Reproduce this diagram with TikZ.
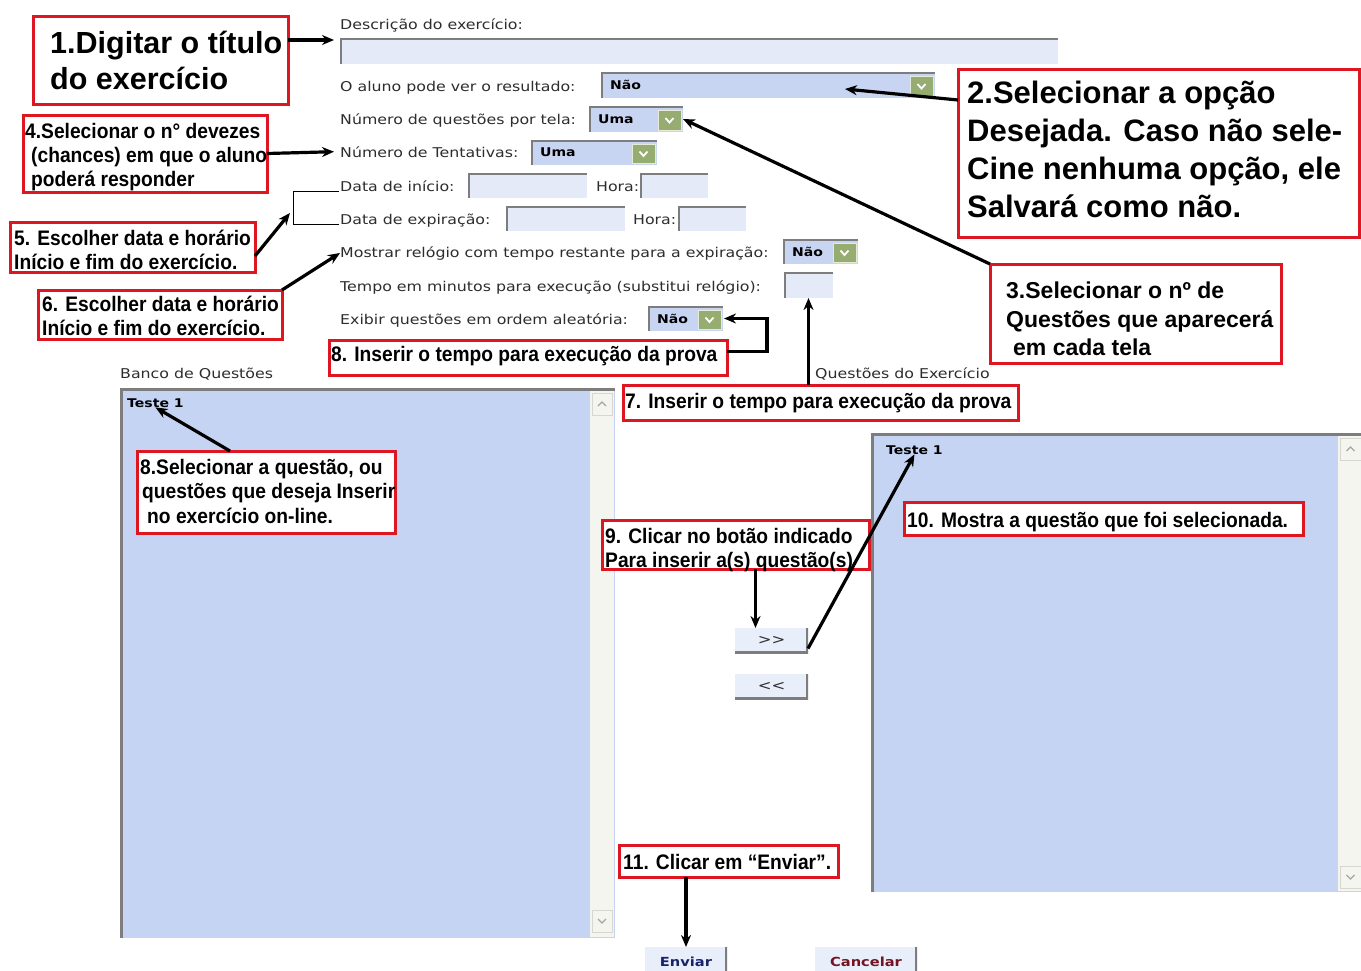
\documentclass[tikz,border=0pt]{standalone}
\usepackage{fontspec}
\setmainfont{Liberation Sans}
\newfontfamily\formfont[FakeStretch=1.17]{DejaVu Sans}
\newfontfamily\narrowfont[FakeStretch=0.915]{Liberation Sans}
\usetikzlibrary{arrows.meta,calc}
\definecolor{callred}{RGB}{222,22,34}
\definecolor{listblue}{RGB}{198,212,244}
\definecolor{inputblue}{RGB}{228,234,248}
\definecolor{selblue}{RGB}{200,213,242}
\definecolor{insetgray}{RGB}{125,125,125}
\definecolor{btngreen}{RGB}{150,172,112}
\definecolor{scrollbg}{RGB}{245,245,240}
\definecolor{scrollline}{RGB}{215,215,210}
\definecolor{btnfill}{RGB}{232,238,250}
\definecolor{formtext}{RGB}{45,45,45}
\definecolor{enviarblue}{RGB}{25,35,105}
\definecolor{cancelred}{RGB}{115,20,35}
% rectangle node: style, name, x1, y1, x2, y2
\newcommand\rnode[6]{\node[#1,anchor=north west,inner sep=0pt,outer sep=0pt,minimum width={(#5)-(#3)},minimum height={(#6)-(#4)}] (#2) at (#3,#4) {};}
% select box: name, x1, y1, x2, y2, value
\newcommand\selbox[6]{%
  \rnode{selstyle}{#1}{#2}{#3}{#4}{#5}
  \pgfmathsetmacro\bxa{#4-25}\pgfmathsetmacro\bya{#3+4}%
  \pgfmathsetmacro\bxb{#4-2}\pgfmathsetmacro\byb{#5-2}%
  \rnode{ddbtn}{#1b}{\bxa}{\bya}{\bxb}{\byb}
  \draw[white,line width=1.8pt] ($(#1b.center)+(-4,-2)$) -- ($(#1b.center)+(0,2.5)$) -- ($(#1b.center)+(4,-2)$);
  \node[selval] (#1t) at ($(#1.west)+(9,0)$) {#6};}
% push button: name, x1, y1, x2, y2, text, text style
\newcommand\pbtn[7]{%
  \rnode{btnstyle}{#1}{#2}{#3}{#4}{#5}
  \node[#7] (#1t) at (#1.center) {#6};}
% scroll button: name, x1, y1, x2, y2, up(1)/down(-1)
\newcommand\sbtn[6]{%
  \rnode{sbtnstyle}{#1}{#2}{#3}{#4}{#5}
  \draw[black!35,line width=1.2pt] ($(#1.center)+(-4,2*#6)$) -- ($(#1.center)+(0,-2*#6)$) -- ($(#1.center)+(4,2*#6)$);}
\begin{document}
\begin{tikzpicture}[x=1pt,y=-1pt,
  redbox/.style={draw=callred,line width=3pt,fill=white},
  ptr/.style={draw=black,line width=3.2pt,-{Stealth[length=12pt,width=10pt]}},
  lbl/.style={anchor=base west,inner sep=0pt,text=formtext,font=\formfont\fontsize{13.5}{16}\selectfont},
  selval/.style={anchor=west,inner sep=0pt,text=black,font=\formfont\bfseries\fontsize{12}{14}\selectfont},
  item/.style={anchor=base west,inner sep=0pt,text=black,font=\formfont\bfseries\fontsize{12}{14}\selectfont},
  inp/.style={fill=inputblue,path picture={\draw[insetgray,line width=4pt] (path picture bounding box.south west) -- (path picture bounding box.north west) -- (path picture bounding box.north east);}},
  selstyle/.style={fill=selblue,path picture={\draw[insetgray,line width=4pt] (path picture bounding box.south west) -- (path picture bounding box.north west) -- (path picture bounding box.north east);}},
  ddbtn/.style={fill=btngreen,draw=white!75!btngreen,line width=1pt},
  listbox/.style={fill=listblue,path picture={\draw[insetgray,line width=5pt] (path picture bounding box.south west) -- (path picture bounding box.north west) -- (path picture bounding box.north east);}},
  scrollstyle/.style={fill=scrollbg},
  sbtnstyle/.style={fill=scrollbg,draw=scrollline,line width=1pt},
  btnstyle/.style={fill=btnfill,path picture={\draw[insetgray,line width=4pt] (path picture bounding box.south west) -- (path picture bounding box.south east) -- (path picture bounding box.north east);}},
  btntext/.style={inner sep=0pt,text=formtext,font=\formfont\fontsize{14}{16}\selectfont},
  envtext/.style={inner sep=0pt,yshift=-1pt,text=enviarblue,font=\formfont\bfseries\fontsize{12.5}{15}\selectfont},
  cantext/.style={inner sep=0pt,yshift=-1pt,text=cancelred,font=\formfont\bfseries\fontsize{12.5}{15}\selectfont},
  bigA/.style={anchor=base west,inner sep=0pt,font=\bfseries\fontsize{30.5}{36}\selectfont},
  bigB/.style={anchor=base west,inner sep=0pt,font=\bfseries\fontsize{31}{36}\selectfont},
  midC/.style={anchor=base west,inner sep=0pt,font=\bfseries\fontsize{23}{27}\selectfont},
  nar/.style={anchor=base west,inner sep=0pt,font=\narrowfont\bfseries\fontsize{21}{24}\selectfont},
]
\useasboundingbox (0,0) rectangle (1361,970);
\clip (0,0) rectangle (1361,970);
\fill[white] (0,0) rectangle (1361,970);

% ---------- form ----------
\node[lbl] (Ldesc) at (340,29) {Descrição do exercício:};
\rnode{inp}{Idesc}{340}{38}{1058}{64}
\node[lbl] (Laluno) at (340,91) {O aluno pode ver o resultado:};
\selbox{Saluno}{601}{72}{935}{98}{Não}
\node[lbl] (Lqpt) at (340,124) {Número de questões por tela:};
\selbox{Sqpt}{589}{106}{683}{132}{Uma}
\node[lbl] (Ltent) at (340,157) {Número de Tentativas:};
\selbox{Stent}{531}{140}{657}{165}{Uma}
\node[lbl] (Ldi) at (340,191) {Data de início:};
\rnode{inp}{Idi}{468}{173}{587}{198}
\node[lbl] (Lhi) at (596,191) {Hora:};
\rnode{inp}{Ihi}{640}{173}{708}{198}
\node[lbl] (Lde) at (340,224) {Data de expiração:};
\rnode{inp}{Ide}{506}{206}{625}{231}
\node[lbl] (Lhe) at (633,224) {Hora:};
\rnode{inp}{Ihe}{678}{206}{746}{231}
\node[lbl] (Lrel) at (340,257) {Mostrar relógio com tempo restante para a expiração:};
\selbox{Srel}{783}{239}{858}{264}{Não}
\node[lbl] (Ltmp) at (340,291) {Tempo em minutos para execução (substitui relógio):};
\rnode{inp}{Itmp}{784}{272}{833}{298}
\node[lbl] (Lale) at (340,324) {Exibir questões em ordem aleatória:};
\selbox{Sale}{648}{306}{723}{331}{Não}

% ---------- lists ----------
\node[lbl] (Lbanco) at (120,378) {Banco de Questões};
\node[lbl] (Lqex) at (815,378) {Questões do Exercício};
\rnode{listbox}{Lleft}{120}{388}{615}{938}
\rnode{scrollstyle}{Lsb}{590}{391}{614}{937}
\sbtn{Lsbu}{592}{393}{612}{415}{1}
\sbtn{Lsbd}{592}{910}{612}{932}{-1}
\node[item] (T1l) at (127,407) {Teste 1};
\rnode{listbox}{Lright}{871}{433}{1370}{892}
\rnode{scrollstyle}{Rsb}{1338}{436}{1361}{891}
\sbtn{Rsbu}{1340}{438}{1361}{460}{1}
\sbtn{Rsbd}{1340}{866}{1361}{888}{-1}
\node[item] (T1r) at (886,454) {Teste 1};

% ---------- buttons ----------
\pbtn{Badd}{735}{628}{808}{653}{>>}{btntext}
\pbtn{Brem}{735}{674}{808}{699}{<<}{btntext}
\pbtn{Benv}{645}{947}{727}{975}{Enviar}{envtext}
\pbtn{Bcan}{815}{947}{917}{975}{Cancelar}{cantext}

% ---------- callouts ----------
\rnode{redbox}{C1}{33}{16}{288}{104}
\node[bigA] (C1a) at (50,53) {1.Digitar o título};
\node[bigA] (C1b) at (50,89) {do exercício};

\rnode{redbox}{C2}{958}{69}{1359}{237}
\node[bigB] (C2a) at (967,103) {2.Selecionar a opção};
\node[bigB] (C2b) at (967,141) {Desejada. Caso não sele-};
\node[bigB] (C2c) at (967,179) {Cine nenhuma opção, ele};
\node[bigB] (C2d) at (967,217) {Salvará como não.};

\rnode{redbox}{C3}{990}{264}{1281}{363}
\node[midC] (C3a) at (1006,298) {3.Selecionar o nº de};
\node[midC] (C3b) at (1006,327) {Questões que aparecerá};
\node[midC] (C3c) at (1013,355) {em cada tela};

\rnode{redbox}{C4}{23}{115}{267}{192}
\node[nar] (C4a) at (25,138) {4.Selecionar o n° devezes};
\node[nar] (C4b) at (31,162) {(chances) em que o aluno};
\node[nar] (C4c) at (31,186) {poderá responder};

\rnode{redbox}{C5}{10}{222}{255}{272}
\node[nar] (C5a) at (14,245) {5. Escolher data e horário};
\node[nar] (C5b) at (14,269) {Início e fim do exercício.};

\rnode{redbox}{C6}{38}{290}{282}{339}
\node[nar] (C6a) at (42,311) {6. Escolher data e horário};
\node[nar] (C6b) at (42,335) {Início e fim do exercício.};

\rnode{redbox}{C8a}{329}{340}{727}{375}
\node[nar] (C8at) at (331,361) {8. Inserir o tempo para execução da prova};

\rnode{redbox}{C7}{623}{385}{1018}{420}
\node[nar] (C7t) at (625,408) {7. Inserir o tempo para execução da prova};

\rnode{redbox}{C8b}{137}{451}{395}{533}
\node[nar] (C8ba) at (140,474) {8.Selecionar a questão, ou};
\node[nar] (C8bb) at (142,498) {questões que deseja Inserir};
\node[nar] (C8bc) at (147,523) {no exercício on-line.};

\rnode{redbox}{C10}{904}{502}{1303}{535}
\node[nar] (C10t) at (907,527) {10. Mostra a questão que foi selecionada.};

\rnode{redbox}{C9}{602}{520}{869}{569}
\node[nar] (C9a) at (605,543) {9. Clicar no botão indicado};
\node[nar] (C9b) at (605,567) {Para inserir a(s) questão(s)};

\rnode{redbox}{C11}{619}{845}{838}{877}
\node[nar] (C11t) at (623,869) {11. Clicar em “Enviar”.};

% ---------- connectors ----------
\coordinate (e2) at (845,89);
\coordinate (brk) at (290,213);
\draw[ptr] ([yshift=20pt]C1.east) -- ([shift={(-6pt,11pt)}]Idesc.west);
\draw[ptr] ([yshift=53pt]C2.west) -- (e2);
\draw[ptr] (C3.north west) -- (Sqpt.east);
\draw[ptr] (C4.east) -- ([xshift=-6pt]Ltent.west);
\draw[line width=1pt] ([shift={(-1pt,0pt)}]Ldi.base west) -- ++(-46,0) |- ([shift={(-1pt,0pt)}]Lde.base west);
\draw[ptr] ([yshift=-9pt]C5.east) -- (brk);
\draw[ptr] (C6.north east) -- (Lrel.west);
\draw[ptr] ([yshift=6pt]C8a.east) -- ++(40,0) |- ([xshift=1pt]Sale.east);
\draw[ptr] (C7.north -| Itmp.south) -- (Itmp.south);
\draw[ptr] ([xshift=-36pt]C8b.north) -- (T1l.south);
\draw[ptr] ([xshift=20pt]C9.south) -- ([xshift=20pt]C9.south |- Badd.north);
\draw[ptr] ([yshift=-8pt]Badd.east) -- (T1r.south);
\draw[ptr] (C11.south -| Benv.north) -- (Benv.north);
\end{tikzpicture}
\end{document}
